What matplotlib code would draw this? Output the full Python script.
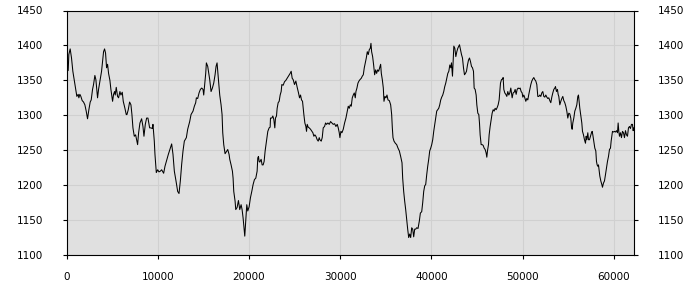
import numpy as np
import matplotlib
matplotlib.use('Agg')
import matplotlib.pyplot as plt

# series (x in sample units, y in value units)
xs = [0, 183, 256, 403, 549, 695, 842, 988, 1134, 1281, 1354, 1464, 1574, 1720, 1866,
      2013, 2159, 2305, 2452, 2598, 2708, 2854, 2964, 3110, 3220, 3403, 3513, 3696, 3842,
      3952, 4062, 4172, 4281, 4391, 4501, 4611, 4757, 4867, 5050, 5160, 5269, 5342, 5452,
      5598, 5708, 5855, 5964, 6111, 6220, 6403, 6550, 6623, 6769, 6916, 7062, 7172, 7282,
      7428, 7575, 7794, 7904, 8050, 8233, 8380, 8489, 8636, 8782, 8928, 9111, 9257, 9404,
      9477, 9623, 9696, 9843, 9989, 10136, 10282, 10428, 10648, 10794, 10940, 11160, 11380,
      11526, 11672, 11819, 12002, 12185, 12331, 12477, 12624, 12770, 12916, 13136, 13282,
      13502, 13648, 13868,
      14014, 14160, 14234, 14380, 14526, 14673, 14819, 14965, 15039, 15148, 15258, 15331,
      15478, 15587, 15697, 15844, 15990, 16136, 16283, 16392, 16502, 16575, 16685, 16795,
      16941, 17051, 17124, 17234, 17380, 17527, 17673, 17819, 17893, 18039, 18185, 18259,
      18332, 18478, 18551, 18698, 18844, 18990, 19137, 19246, 19356, 19466, 19539, 19649,
      19759, 19868, 20015, 20161, 20307, 20454, 20600, 20747, 20893, 20966, 21039, 21113,
      21186, 21332, 21442, 21552, 21661, 21771, 21918, 22064, 22210, 22320, 22357, 22503,
      22613, 22723, 22832, 22905, 23015, 23088, 23198, 23308, 23418, 23527, 23601, 23747,
      23893, 24040, 24186, 24369, 24515, 24625, 24735, 24845, 24991, 25137, 25284, 25430,
      25540, 25650, 25759, 25869, 26016, 26125, 26235, 26308, 26382, 26491, 26601, 26747,
      26894, 27004, 27113, 27223, 27333, 27479, 27589, 27699,
      27772, 27918, 28028, 28138, 28284, 28394, 28504, 28650, 28796, 28943, 29089, 29236,
      29382, 29528, 29675, 29784, 29894, 29967, 30077, 30187, 30333, 30480, 30626, 30772,
      30882, 30992, 31102, 31211, 31321, 31431, 31541, 31650, 31724, 31833, 31943, 32053,
      32163, 32309, 32419, 32529, 32638, 32748, 32858, 32968, 33077, 33187, 33297, 33370,
      33443, 33553, 33663, 33773, 33882, 33992, 34102, 34212, 34321, 34431, 34504, 34614,
      34724, 34797, 34907, 35017, 35126, 35236, 35383, 35529, 35639, 35712, 35785, 35895,
      36041, 36188, 36334, 36480, 36627, 36773, 36846, 36956, 37066, 37176, 37285, 37395,
      37505, 37615, 37724, 37834, 37944, 38054, 38163, 38273, 38383, 38529, 38676, 38785,
      38932, 39042, 39151, 39261, 39371, 39481, 39590, 39700, 39810, 39920, 40030, 40139,
      40249, 40359, 40469, 40578, 40688, 40798, 40908, 41017, 41127, 41237, 41347, 41456,
      41566,
      41684, 41794, 41904, 42013, 42123, 42196, 42305, 42378, 42452, 42561, 42671, 42780,
      42890, 42999, 43073, 43182, 43292, 43401, 43511, 43621, 43730, 43840, 43949, 44059,
      44168, 44278, 44388, 44497, 44607, 44680, 44789, 44899, 44972, 45082, 45191, 45264,
      45337, 45447, 45557, 45666, 45776, 45885, 45995, 46068, 46141, 46250, 46323, 46433,
      46543, 46652, 46762, 46871, 46981, 47091, 47200, 47310, 47419, 47492, 47566, 47675,
      47785, 47858, 47931, 48040, 48150, 48260, 48369, 48479, 48588, 48698, 48771, 48844,
      48954, 49063, 49173, 49283, 49392, 49502, 49611, 49721, 49831, 49940, 50013, 50123,
      50232, 50342, 50452, 50561, 50671, 50780, 50890, 51000, 51109, 51219, 51328, 51438,
      51548, 51657, 51767, 51876, 51986, 52095, 52205, 52315, 52424, 52534, 52643, 52753,
      52863, 52972, 53082, 53191, 53301, 53411, 53520, 53593, 53703, 53812, 53885, 53959,
      54068, 54178, 54287, 54397, 54506, 54616, 54726, 54835, 54945, 55054, 55164, 55273,
      55347,
      55421, 55494, 55603, 55713, 55823, 55932, 56042, 56115, 56188, 56261, 56371, 56480,
      56553, 56663, 56772, 56882, 56955, 57028, 57138, 57211, 57320, 57430, 57540, 57613,
      57686, 57795, 57905, 58014, 58087, 58161, 58234, 58307, 58380, 58453, 58563, 58672,
      58745, 58855, 58964, 59074, 59183, 59293, 59403, 59512, 59622, 59695, 59768, 59841,
      59951, 60060, 60170, 60279, 60389, 60462, 60535, 60608, 60718, 60827, 60937, 61046,
      61156, 61266, 61375, 61485, 61594, 61704, 61813, 61923, 62032, 62106, 62179]

ys = [1365, 1364, 1387, 1395, 1382, 1363, 1351, 1339, 1327, 1330, 1325, 1330, 1327, 1321, 1319,
      1315, 1306, 1295, 1308, 1319, 1322, 1337, 1344, 1357, 1351, 1325, 1337, 1351, 1363,
      1377, 1391, 1395, 1389, 1368, 1373, 1360, 1350, 1337, 1320, 1330, 1334, 1329, 1340,
      1327, 1325, 1334, 1329, 1333, 1320, 1310, 1301, 1301, 1308, 1319, 1315, 1301, 1282,
      1270, 1272, 1258, 1275, 1289, 1295, 1284, 1270, 1287, 1296, 1296, 1282, 1282, 1281,
      1287, 1263, 1244, 1218, 1222, 1219, 1220, 1222, 1217, 1227, 1234, 1244, 1253,
      1259, 1244, 1220, 1206, 1191, 1188, 1206, 1230, 1249, 1263, 1268, 1280,
      1291, 1301, 1306,
      1313, 1318, 1325, 1324, 1332, 1337, 1339, 1337, 1329, 1344, 1360, 1375,
      1370, 1360, 1351, 1334, 1339, 1346, 1358, 1370, 1375, 1363, 1346, 1329,
      1315, 1301, 1275, 1258, 1245, 1248, 1251, 1244, 1237, 1229, 1220, 1210,
      1191, 1177, 1165, 1168, 1178, 1165, 1172, 1165, 1153, 1137, 1127, 1149,
      1172, 1163, 1169, 1182, 1191, 1201, 1208, 1210, 1220, 1239, 1241, 1234,
      1233, 1237, 1229, 1229, 1234, 1249, 1263, 1277, 1282, 1283, 1296, 1296,
      1299, 1294, 1282, 1296, 1299, 1310, 1318, 1320, 1329, 1334, 1344, 1343,
      1348, 1350, 1353, 1357, 1360, 1363, 1353, 1351, 1344, 1349, 1340, 1332,
      1325, 1329, 1322, 1320, 1301, 1289, 1284, 1277, 1287, 1283, 1282, 1280,
      1277, 1275, 1270, 1272, 1270, 1265, 1263, 1268,
      1265, 1263, 1268, 1282, 1284, 1289, 1287, 1289, 1287, 1291, 1289, 1287,
      1288, 1284, 1287, 1282, 1275, 1268, 1277, 1275, 1280, 1289, 1296, 1306,
      1313, 1310, 1315, 1313, 1325, 1329, 1332, 1325, 1334, 1339, 1346, 1349,
      1351, 1353, 1356, 1358, 1368, 1375, 1382, 1391, 1387, 1394, 1396, 1403,
      1391, 1384, 1372, 1358, 1365, 1360, 1365, 1363, 1368, 1373, 1360, 1351,
      1339, 1320, 1327, 1325, 1329, 1322, 1321, 1315, 1301, 1282, 1268, 1263,
      1260, 1258, 1253, 1249, 1241, 1232, 1210, 1191, 1177, 1165, 1151, 1137,
      1125, 1130, 1125, 1139, 1137, 1126, 1137, 1137, 1139, 1138, 1149, 1160,
      1162, 1175, 1191, 1199, 1201, 1215, 1227, 1237, 1249, 1253, 1258, 1265,
      1277, 1287, 1296, 1306, 1308, 1310, 1315, 1322, 1326, 1329, 1334, 1341,
      1346,
      1353, 1360, 1363, 1372, 1368, 1375, 1356, 1377, 1399, 1396, 1384, 1391,
      1396, 1399, 1401, 1394, 1387, 1382, 1368, 1358, 1360, 1363, 1372, 1379,
      1382, 1377, 1370, 1368, 1363, 1339, 1337, 1329, 1315, 1303, 1301, 1289,
      1272, 1258, 1258, 1257, 1253, 1251, 1246, 1240, 1249, 1258, 1272, 1284,
      1294, 1303, 1308, 1306, 1310, 1308, 1311, 1315, 1322, 1334, 1346, 1351,
      1352, 1354, 1337, 1332, 1330, 1327, 1334, 1329, 1332, 1339, 1332, 1325,
      1332, 1333, 1337, 1330, 1337, 1339, 1338, 1339, 1334, 1332, 1326, 1329,
      1325, 1320, 1324, 1322, 1330, 1337, 1344, 1349, 1352, 1354, 1351, 1349,
      1344, 1327, 1327, 1329, 1327, 1332, 1334, 1327, 1326, 1329, 1326, 1324,
      1325, 1321, 1318, 1326, 1332, 1337, 1339, 1341, 1334, 1337, 1330, 1327,
      1315, 1320, 1324, 1327, 1321, 1318, 1313, 1306, 1296, 1303, 1302, 1296,
      1284,
      1280, 1289, 1296, 1306, 1310, 1315, 1327, 1329, 1320, 1310, 1299, 1289,
      1277, 1272, 1265, 1260, 1270, 1265, 1275, 1265, 1265, 1270, 1275, 1277,
      1272, 1263, 1253, 1249, 1234, 1229, 1227, 1229, 1221, 1213, 1206, 1201,
      1197, 1203, 1206, 1215, 1225, 1234, 1241, 1251, 1253, 1263, 1270, 1277,
      1276, 1277, 1276, 1278, 1275, 1289, 1277, 1270, 1275, 1268, 1277, 1275,
      1268, 1278, 1272, 1270, 1282, 1284, 1281, 1287, 1287, 1278, 1282]

x_ticks = [0, 10000, 20000, 30000, 40000, 50000, 60000]
y_ticks = [1100, 1150, 1200, 1250, 1300, 1350, 1400, 1450]

fig = plt.figure(figsize=(7, 3), dpi=100)
ax = fig.add_axes([66.5 / 700, 45 / 300, 567.5 / 700, 244.5 / 300])
ax.set_facecolor('#e0e0e0')

ax.plot(xs, ys, color='black', lw=0.75)

ax.set_xlim(0, 62200)
ax.set_ylim(1100, 1450)
ax.set_xticks(x_ticks)
ax.set_yticks(y_ticks)
ax.grid(True, color='#d0d0d0', lw=0.8)
ax.set_axisbelow(True)

for s in ax.spines.values():
    s.set_color('black')
    s.set_linewidth(0.8)

ax.tick_params(axis='y', left=True, right=True, labelleft=True, labelright=True,
               length=3, width=0.8, pad=14, labelsize=7.5)
ax.tick_params(axis='x', length=3, width=0.8, pad=9, labelsize=7.5)

fig.savefig('out.png', dpi=100)
